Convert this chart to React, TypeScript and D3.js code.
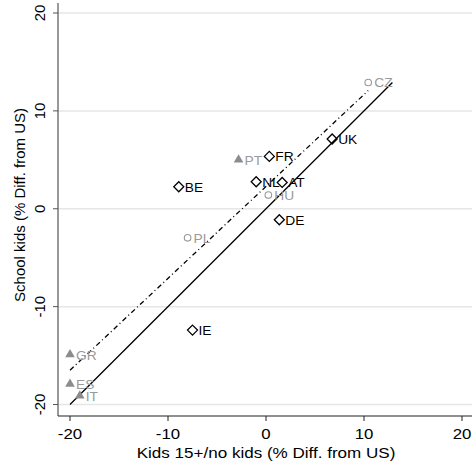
import React from "react";
import * as d3 from "d3";

const W = 472, H = 465;

const blackNames = ["BE", "FR", "NL", "AT", "UK", "DE", "IE"];
const blackX = [-8.9, 0.34, -1.0, 1.65, 6.75, 1.36, -7.5];
const blackY = [2.25, 5.35, 2.76, 2.69, 7.13, -1.12, -12.4];

const circleNames = ["CZ", "HU", "PL"];
const circleX = [10.43, 0.24, -8.0];
const circleY = [12.9, 1.4, -2.97];

const triNames = ["PT", "GR", "ES", "IT"];
const triX = [-2.8, -20.0, -20.0, -19.0];
const triY = [5.0, -14.9, -17.9, -19.1];

const xTicks = [-20, -10, 0, 10, 20];
const yTicks = [-20, -10, 0, 10, 20];

const diagFrom = -20, diagTo = 12.9;
const fitIntercept = 2.28, fitSlope = 0.939, fitFrom = -20, fitTo = 10.43;

export default function App() {
  const x = d3.scaleLinear().domain([-20, 20]).range([70, 462]);
  const y = d3.scaleLinear().domain([-20, 20]).range([404.5, 13]);
  const left = 58, bottom = 416, top = 3, right = 472;
  const grey = "#999";
  const font = "Liberation Sans, Arial, Helvetica, sans-serif";
  const tri = d3.symbol().type(d3.symbolTriangle).size(40);
  const sx = 1.1;
  return (
    <svg width={W} height={H} style={{ position: "absolute", left: 0, top: 0, background: "#fff" }}>
      <rect x={0} y={0} width={W} height={H} fill="#fff" />
      {yTicks.map((t) => (
        <line key={"g" + t} x1={left} x2={right} y1={y(t)} y2={y(t)} stroke="#e6e6e6" strokeWidth={1.5} />
      ))}
      <line x1={x(diagFrom)} y1={y(diagFrom)} x2={x(diagTo)} y2={y(diagTo)} stroke="#000" strokeWidth={1.3} />
      <line
        x1={x(fitFrom)} y1={y(fitIntercept + fitSlope * fitFrom)}
        x2={x(fitTo)} y2={y(fitIntercept + fitSlope * fitTo)}
        stroke="#000" strokeWidth={1.3} strokeDasharray="5,3,1,3"
      />
      <line x1={left} x2={left} y1={top} y2={bottom} stroke="#555" strokeWidth={1.2} />
      <line x1={left} x2={right} y1={bottom} y2={bottom} stroke="#222" strokeWidth={1.2} />
      {xTicks.map((t) => (
        <g key={"x" + t}>
          <line x1={x(t)} x2={x(t)} y1={bottom} y2={bottom + 5} stroke="#222" strokeWidth={1} />
          <text transform={`translate(${x(t)},439) scale(1.12,1)`} textAnchor="middle" fontSize={15} fontFamily={font} fill="#000">{t}</text>
        </g>
      ))}
      {yTicks.map((t) => (
        <g key={"y" + t}>
          <line x1={left - 5} x2={left} y1={y(t)} y2={y(t)} stroke="#555" strokeWidth={1} />
          <text transform={`translate(45,${y(t)}) rotate(-90)`} textAnchor="middle" fontSize={15} fontFamily={font} fill="#000">{t}</text>
        </g>
      ))}
      <text transform={`translate(266,458) scale(1.1,1)`} textAnchor="middle" fontSize={15.5} fontFamily={font} fill="#000">Kids 15+/no kids (% Diff. from US)</text>
      <text transform={`translate(25,205) rotate(-90)`} textAnchor="middle" fontSize={15} fontFamily={font} fill="#000">School kids (% Diff. from US)</text>
      {triNames.map((n, i) => (
        <g key={n}>
          <path d={tri() as string} transform={`translate(${x(triX[i])},${y(triY[i])})`} fill="#8c8c8c" />
          <text transform={`translate(${x(triX[i]) + 6},${y(triY[i]) + 5}) scale(${sx},1)`} fontSize={12.5} fontFamily={font} fill={grey}>{n}</text>
        </g>
      ))}
      {circleNames.map((n, i) => (
        <g key={n}>
          <circle cx={x(circleX[i])} cy={y(circleY[i])} r={3.3} fill="none" stroke={grey} strokeWidth={1.1} />
          <text transform={`translate(${x(circleX[i]) + 6},${y(circleY[i]) + 5}) scale(${sx},1)`} fontSize={12.5} fontFamily={font} fill={grey}>{n}</text>
        </g>
      ))}
      {blackNames.map((n, i) => {
        const cx = x(blackX[i]), cy = y(blackY[i]);
        const s = 5;
        return (
          <g key={n}>
            <path d={`M${cx},${cy - s}L${cx + s},${cy}L${cx},${cy + s}L${cx - s},${cy}Z`} fill="none" stroke="#000" strokeWidth={1.3} />
            <text transform={`translate(${cx + 6},${cy + 5}) scale(${sx},1)`} fontSize={12.5} fontFamily={font} fill="#000">{n}</text>
          </g>
        );
      })}
    </svg>
  );
}
